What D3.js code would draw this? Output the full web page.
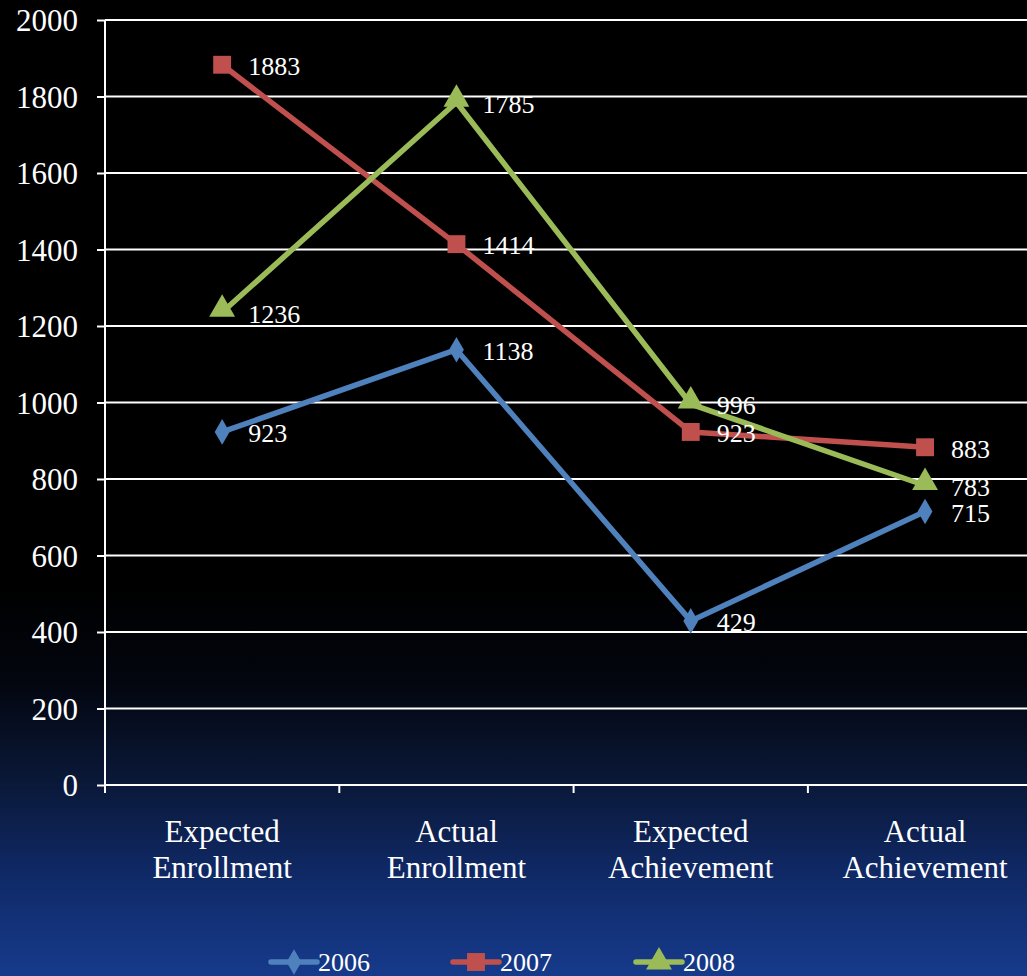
<!DOCTYPE html>
<html><head><meta charset="utf-8">
<script src="https://cdn.jsdelivr.net/npm/d3@7/dist/d3.min.js"></script>
<style>html,body{margin:0;padding:0;background:#000;overflow:hidden}svg{display:block}</style>
</head><body>
<svg id="c" width="1027" height="976"></svg>
<script>
const categories = [["Expected","Enrollment"],["Actual","Enrollment"],["Expected","Achievement"],["Actual","Achievement"]];
const seriesNames = ["2006","2007","2008"];
const values2006 = [923, 1138, 429, 715];
const values2007 = [1883, 1414, 923, 883];
const values2008 = [1236, 1785, 996, 783];
const yTicks = [0,200,400,600,800,1000,1200,1400,1600,1800,2000];
const colors = ["#4f81bd","#c0504d","#9bbb59"];
const symbols = [d3.symbolDiamond, d3.symbolSquare, d3.symbolTriangle];

(function(){
const series = [values2006, values2007, values2008].map((v,i)=>({name:seriesNames[i], values:v, color:colors[i], symbol:symbols[i]}));

const W = 1027, H = 976;
const svg = d3.select("#c");
const defs = svg.append("defs");
const grad = defs.append("linearGradient").attr("id","bg").attr("x1",0).attr("y1",0).attr("x2",0).attr("y2",1);
[["0%","#000"],["60%","#000"],["70%","#03060f"],["80%","#0a1838"],["90%","#102a68"],["100%","#163a8b"]]
  .forEach(s=>grad.append("stop").attr("offset",s[0]).attr("stop-color",s[1]));
svg.append("rect").attr("width",W).attr("height",H).attr("fill","url(#bg)");

const pLeft = 105, pTop = 20, pBottom = 785;
const x = d3.scaleBand().domain(d3.range(categories.length)).range([pLeft, pLeft + 4*234.3]).padding(0);
const y = d3.scaleLinear().domain([0,2000]).range([pBottom, pTop]);
const cx = i => x(i) + x.bandwidth()/2;
const font = "'Liberation Serif','Times New Roman',serif";

// gridlines
svg.append("g").selectAll("line").data(yTicks.filter(d=>d>0)).join("line")
  .attr("x1",pLeft).attr("x2",W).attr("y1",d=>y(d)).attr("y2",d=>y(d))
  .attr("stroke","#fff").attr("stroke-width",2);

// y axis
const ya = svg.append("g").attr("transform",`translate(${pLeft},0)`)
  .call(d3.axisLeft(y).tickValues(yTicks).tickSize(8).tickPadding(19).tickFormat(d3.format("d")));
ya.select(".domain").attr("stroke","#fff").attr("stroke-width",2).attr("d",`M0,${pTop}V${pBottom+8}`);
ya.selectAll(".tick line").attr("stroke","#fff").attr("stroke-width",2);
ya.selectAll("text").attr("fill","#fff").style("font-family",font).style("font-size","31px").attr("dy","0.34em");

// x axis
const xa = svg.append("g").attr("transform",`translate(0,${pBottom})`);
xa.append("line").attr("x1",pLeft).attr("x2",W).attr("stroke","#fff").attr("stroke-width",2);
xa.selectAll("line.t").data(d3.range(categories.length)).join("line").attr("class","t")
  .attr("x1",d=>x(d)).attr("x2",d=>x(d)).attr("y1",0).attr("y2",8).attr("stroke","#fff").attr("stroke-width",2);
const ct = xa.selectAll("text").data(categories).join("text")
  .attr("x",(d,i)=>cx(i)).attr("y",57).attr("text-anchor","middle").attr("fill","#fff")
  .style("font-family",font).style("font-size","31px");
ct.append("tspan").attr("x",(d,i)=>cx(i)).text(d=>d[0]);
ct.append("tspan").attr("x",(d,i)=>cx(i)).attr("dy",36).text(d=>d[1]);

// lines
const line = d3.line().x((d,i)=>cx(i)).y(d=>y(d));
series.forEach(s=>{
  svg.append("path").datum(s.values).attr("d",line).attr("fill","none")
    .attr("stroke",s.color).attr("stroke-width",5.5).attr("stroke-linejoin","round");
});
const sizes = [190, 320, 290];
series.forEach((s,k)=>{
  svg.append("g").selectAll("path").data(s.values).join("path")
    .attr("transform",(d,i)=>`translate(${cx(i)},${y(d) + (k===2?-3:0)})`)
    .attr("d",d3.symbol().type(s.symbol).size(sizes[k])).attr("fill",s.color);
});
// data labels
series.forEach(s=>{
  svg.append("g").selectAll("text").data(s.values).join("text")
    .attr("x",(d,i)=>cx(i)+26).attr("y",d=>y(d)+1.5).attr("dy","0.34em")
    .attr("fill","#fff").style("font-family",font).style("font-size","26px").text(d=>d);
});

// legend
const legX = [271, 453, 636];
const lg = svg.append("g").selectAll("g").data(series).join("g")
  .attr("transform",(d,i)=>`translate(${legX[i]},962)`);
lg.append("line").attr("x1",0).attr("x2",46).attr("stroke",d=>d.color).attr("stroke-width",5.5).attr("stroke-linecap","round");
lg.append("path").attr("transform","translate(23,0)").attr("d",(d,i)=>d3.symbol().type(d.symbol).size(sizes[i])()).attr("fill",d=>d.color);
lg.append("text").attr("x",47).attr("dy","0.34em").attr("fill","#fff")
  .style("font-family",font).style("font-size","26px").text(d=>d.name);
})();
</script>
</body></html>
